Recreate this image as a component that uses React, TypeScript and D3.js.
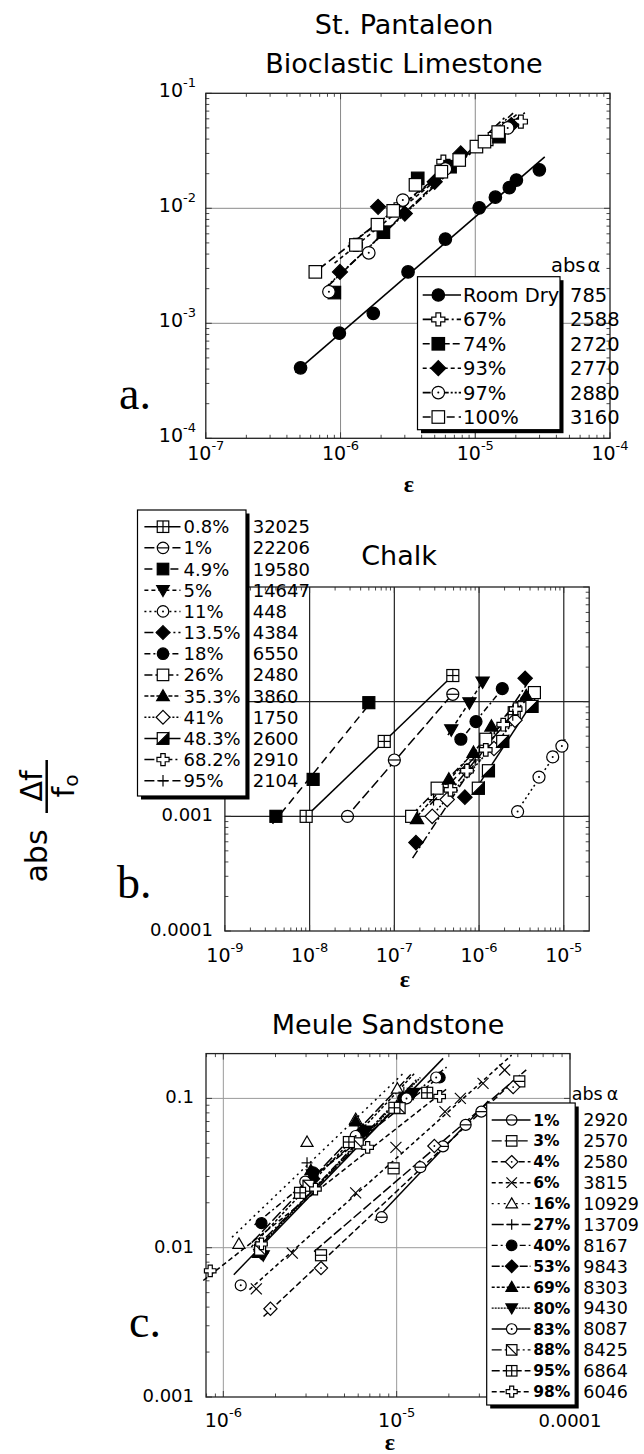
import React from 'react';
import * as d3 from 'd3';

const FONT = '"DejaVu Sans", sans-serif';
const SERIF = '"Liberation Serif", "DejaVu Serif", serif';

// ---------------- Panel a: St. Pantaleon Bioclastic Limestone ----------------
const aNames = ['Room Dry', '67%', '74%', '93%', '97%', '100%'];
const aAlpha = ['785', '2588', '2720', '2770', '2880', '3160'];
const aRoomDryX = [5.05e-7, 9.8e-7, 1.75e-6, 3.17e-6, 6.0e-6, 1.07e-5, 1.41e-5, 1.79e-5, 2.02e-5, 2.99e-5];
const aRoomDryY = [4.1e-4, 8.2e-4, 1.22e-3, 2.8e-3, 5.4e-3, 1.01e-2, 1.25e-2, 1.51e-2, 1.76e-2, 2.16e-2];
const a67X = [1.3e-6, 2.6e-6, 5.8e-6, 1.3e-5, 2.18e-5];
const a67Y = [4.8e-3, 9.8e-3, 2.54e-2, 4.0e-2, 5.67e-2];
const a74X = [9.0e-7, 2.08e-6, 3.74e-6, 6.5e-6, 1.5e-5];
const a74Y = [1.85e-3, 6.2e-3, 1.82e-2, 2.3e-2, 4.2e-2];
const a93X = [9.9e-7, 1.9e-6, 3.0e-6, 5.0e-6, 7.8e-6, 1.85e-5];
const a93Y = [2.8e-3, 1.03e-2, 9.0e-3, 1.7e-2, 3.0e-2, 5.3e-2];
const a97X = [8.2e-7, 1.62e-6, 2.9e-6, 6.0e-6, 1.74e-5];
const a97Y = [1.88e-3, 4.1e-3, 1.18e-2, 2.2e-2, 5.0e-2];
const a100X = [6.5e-7, 1.3e-6, 1.88e-6, 2.46e-6, 3.6e-6, 5.6e-6, 7.6e-6, 1.02e-5, 1.17e-5, 1.48e-5];
const a100Y = [2.8e-3, 4.8e-3, 7.2e-3, 9.5e-3, 1.6e-2, 2.08e-2, 2.63e-2, 3.44e-2, 3.8e-2, 4.6e-2];
const aXTicks = [1e-7, 1e-6, 1e-5, 1e-4];
const aYTicks = [1e-4, 1e-3, 1e-2, 1e-1];

// ---------------- Panel b: Chalk ----------------
const bNames = ['0.8%', '1%', '4.9%', '5%', '11%', '13.5%', '18%', '26%', '35.3%', '41%', '48.3%', '68.2%', '95%'];
const bAlpha = ['32025', '22206', '19580', '14647', '448', '4384', '6550', '2480', '3860', '1750', '2600', '2910', '2104'];
const b08X = [9.1e-9, 7.6e-8, 4.9e-7];
const b08Y = [1.0e-3, 4.5e-3, 1.69e-2];
const b1X = [2.8e-8, 1.0e-7, 4.9e-7];
const b1Y = [1.0e-3, 3.1e-3, 1.16e-2];
const b49X = [4.0e-9, 1.1e-8, 5.0e-8];
const b49Y = [1.0e-3, 2.1e-3, 9.8e-3];
const b5X = [4.7e-7, 7.7e-7, 1.1e-6];
const b5Y = [5.7e-3, 9.8e-3, 1.49e-2];
const b11X = [2.85e-6, 5.1e-6, 7.4e-6, 9.5e-6];
const b11Y = [1.1e-3, 2.2e-3, 3.3e-3, 4.1e-3];
const b135X = [1.8e-7, 6.8e-7, 3.5e-6];
const b135Y = [5.9e-4, 1.47e-3, 1.6e-2];
const b18X = [6.1e-7, 9.2e-7, 1.88e-6];
const b18Y = [4.7e-3, 6.7e-3, 1.3e-2];
const b26X = [1.6e-7, 3.2e-7, 1.2e-6, 2.6e-6, 4.5e-6];
const b26Y = [1.0e-3, 1.76e-3, 4.7e-3, 8.0e-3, 1.2e-2];
const b353X = [1.85e-7, 4.4e-7, 8.6e-7, 1.4e-6, 3.6e-6];
const b353Y = [9.5e-4, 2.1e-3, 3.6e-3, 6.1e-3, 1.12e-2];
const b41X = [2.8e-7, 4.2e-7, 7.2e-7, 1.5e-6, 2.65e-6];
const b41Y = [1.0e-3, 1.4e-3, 2.5e-3, 3.9e-3, 6.9e-3];
const b483X = [9.8e-7, 1.29e-6, 1.9e-6, 4.2e-6];
const b483Y = [1.76e-3, 2.5e-3, 4.5e-3, 9.1e-3];
const b682X = [4.6e-7, 7.2e-7, 1.2e-6, 1.93e-6, 2.7e-6];
const b682Y = [1.7e-3, 2.5e-3, 3.8e-3, 6.3e-3, 8.6e-3];
const b95X = [2.9e-7, 9.0e-7, 2.5e-6];
const b95Y = [1.4e-3, 3.1e-3, 7.7e-3];
const bXTicks = [1e-9, 1e-8, 1e-7, 1e-6, 1e-5];
const bYTicks = [1e-4, 1e-3];
const bYLabels = ['0.0001', '0.001'];

// ---------------- Panel c: Meule Sandstone ----------------
const cNames = ['1%', '3%', '4%', '6%', '16%', '27%', '40%', '53%', '69%', '80%', '83%', '88%', '95%', '98%'];
const cAlpha = ['2920', '2570', '2580', '3815', '10929', '13709', '8167', '9843', '8303', '9430', '8087', '8425', '6864', '6046'];
const c1X = [8.2e-6, 1.37e-5, 1.85e-5, 2.5e-5, 3.08e-5];
const c1Y = [1.6e-2, 3.46e-2, 4.77e-2, 6.65e-2, 8.15e-2];
const c3X = [3.66e-6, 9.6e-6, 5.1e-5];
const c3Y = [8.9e-3, 3.4e-2, 1.3e-1];
const c4X = [1.87e-6, 3.66e-6, 1.65e-5, 4.7e-5];
const c4Y = [3.9e-3, 7.3e-3, 4.8e-2, 1.19e-1];
const c6X = [1.55e-6, 2.5e-6, 5.8e-6, 9.9e-6, 1.9e-5, 2.33e-5, 3.15e-5, 4.2e-5];
const c6Y = [5.3e-3, 9.2e-3, 2.33e-2, 4.7e-2, 8.15e-2, 1.0e-1, 1.26e-1, 1.55e-1];
const c16X = [1.23e-6, 3.04e-6, 5.8e-6, 1.01e-5];
const c16Y = [1.06e-2, 5.1e-2, 7.26e-2, 1.16e-1];
const c27X = [1.6e-6, 3.04e-6, 6.0e-6, 1.1e-5];
const c27Y = [9.5e-3, 3.7e-2, 6.6e-2, 1.1e-1];
const c40X = [1.66e-6, 3.3e-6, 1.09e-5, 1.77e-5];
const c40Y = [1.46e-2, 3.2e-2, 1.0e-1, 1.38e-1];
const c53X = [1.66e-6, 3.3e-6, 6.4e-6, 1.19e-5];
const c53Y = [9.2e-3, 2.9e-2, 6.1e-2, 1.06e-1];
const c69X = [1.59e-6, 3.2e-6, 5.8e-6, 1.15e-5];
const c69Y = [9.2e-3, 3.3e-2, 7.0e-2, 1.05e-1];
const c80X = [1.7e-6, 3.26e-6, 6.7e-6, 1.25e-5];
const c80Y = [8.9e-3, 3.1e-2, 6.1e-2, 1.09e-1];
const c83X = [1.26e-6, 2.97e-6, 5.8e-6, 1.14e-5, 1.69e-5];
const c83Y = [5.6e-3, 2.77e-2, 5.6e-2, 1.0e-1, 1.38e-1];
const c88X = [1.63e-6, 3.1e-6, 5.96e-6, 1.04e-5];
const c88Y = [9.7e-3, 2.6e-2, 5.0e-2, 8.6e-2];
const c95X = [2.77e-6, 5.3e-6, 9.7e-6, 1.5e-5];
const c95Y = [2.33e-2, 5.1e-2, 8.65e-2, 1.09e-1];
const c98X = [8.4e-7, 1.66e-6, 3.4e-6, 6.8e-6, 1.77e-5];
const c98Y = [7.0e-3, 1.06e-2, 2.47e-2, 4.7e-2, 1.03e-1];
const cXTicks = [1e-6, 1e-5, 1e-4];
const cXLabels = ['', '', '0.0001'];
const cYTicks = [1e-3, 1e-2, 1e-1];
const cYLabels = ['0.001', '0.01', '0.1'];

type Series = { name: string; alpha: string; marker: string; dash: string; xs: number[]; ys: number[] };

const aSeries: Series[] = [
  { name: aNames[0], alpha: aAlpha[0], marker: 'circleFilled', dash: '', xs: aRoomDryX, ys: aRoomDryY },
  { name: aNames[1], alpha: aAlpha[1], marker: 'crossOpen', dash: '9,3,2,3', xs: a67X, ys: a67Y },
  { name: aNames[2], alpha: aAlpha[2], marker: 'squareFilled', dash: '7,3', xs: a74X, ys: a74Y },
  { name: aNames[3], alpha: aAlpha[3], marker: 'diamondFilled', dash: '4,3', xs: a93X, ys: a93Y },
  { name: aNames[4], alpha: aAlpha[4], marker: 'circleDot', dash: '8,2,2,2,2,2', xs: a97X, ys: a97Y },
  { name: aNames[5], alpha: aAlpha[5], marker: 'squareOpen', dash: '8,4', xs: a100X, ys: a100Y },
];

const bSeries: Series[] = [
  { name: bNames[0], alpha: bAlpha[0], marker: 'squareCross', dash: '', xs: b08X, ys: b08Y },
  { name: bNames[1], alpha: bAlpha[1], marker: 'circleBar', dash: '10,4', xs: b1X, ys: b1Y },
  { name: bNames[2], alpha: bAlpha[2], marker: 'squareFilled', dash: '8,5', xs: b49X, ys: b49Y },
  { name: bNames[3], alpha: bAlpha[3], marker: 'triDownFilled', dash: '4,3', xs: b5X, ys: b5Y },
  { name: bNames[4], alpha: bAlpha[4], marker: 'circleDot', dash: '2,3', xs: b11X, ys: b11Y },
  { name: bNames[5], alpha: bAlpha[5], marker: 'diamondFilled', dash: '9,3,2,3', xs: b135X, ys: b135Y },
  { name: bNames[6], alpha: bAlpha[6], marker: 'circleFilled', dash: '6,3,2,3', xs: b18X, ys: b18Y },
  { name: bNames[7], alpha: bAlpha[7], marker: 'squareOpen', dash: '8,3,2,3,2,3', xs: b26X, ys: b26Y },
  { name: bNames[8], alpha: bAlpha[8], marker: 'triUpFilled', dash: '4,2', xs: b353X, ys: b353Y },
  { name: bNames[9], alpha: bAlpha[9], marker: 'diamondOpen', dash: '2,2', xs: b41X, ys: b41Y },
  { name: bNames[10], alpha: bAlpha[10], marker: 'squareHalf', dash: '', xs: b483X, ys: b483Y },
  { name: bNames[11], alpha: bAlpha[11], marker: 'crossOpen', dash: '10,3,2,3', xs: b682X, ys: b682Y },
  { name: bNames[12], alpha: bAlpha[12], marker: 'plus', dash: '10,4', xs: b95X, ys: b95Y },
];

const cSeries: Series[] = [
  { name: cNames[0], alpha: cAlpha[0], marker: 'circleBar', dash: '', xs: c1X, ys: c1Y },
  { name: cNames[1], alpha: cAlpha[1], marker: 'squareBar', dash: '10,3', xs: c3X, ys: c3Y },
  { name: cNames[2], alpha: cAlpha[2], marker: 'diamondDot', dash: '6,3', xs: c4X, ys: c4Y },
  { name: cNames[3], alpha: cAlpha[3], marker: 'x', dash: '4,3', xs: c6X, ys: c6Y },
  { name: cNames[4], alpha: cAlpha[4], marker: 'triUpOpen', dash: '2,4', xs: c16X, ys: c16Y },
  { name: cNames[5], alpha: cAlpha[5], marker: 'plus', dash: '12,3', xs: c27X, ys: c27Y },
  { name: cNames[6], alpha: cAlpha[6], marker: 'circleFilled', dash: '6,3,2,3', xs: c40X, ys: c40Y },
  { name: cNames[7], alpha: cAlpha[7], marker: 'diamondFilled', dash: '8,2,2,2', xs: c53X, ys: c53Y },
  { name: cNames[8], alpha: cAlpha[8], marker: 'triUpFilled', dash: '3,2', xs: c69X, ys: c69Y },
  { name: cNames[9], alpha: cAlpha[9], marker: 'triDownFilled', dash: '2,1', xs: c80X, ys: c80Y },
  { name: cNames[10], alpha: cAlpha[10], marker: 'circleDot', dash: '', xs: c83X, ys: c83Y },
  { name: cNames[11], alpha: cAlpha[11], marker: 'squareDiag', dash: '10,3,2,3', xs: c88X, ys: c88Y },
  { name: cNames[12], alpha: cAlpha[12], marker: 'squareCross', dash: '8,3', xs: c95X, ys: c95Y },
  { name: cNames[13], alpha: cAlpha[13], marker: 'crossOpen', dash: '5,3', xs: c98X, ys: c98Y },
];

function fit(xs: number[], ys: number[]) {
  const lx = xs.map(Math.log10);
  const ly = ys.map(Math.log10);
  const mx = d3.mean(lx) as number;
  const my = d3.mean(ly) as number;
  let sxy = 0, sxx = 0;
  lx.forEach((v, i) => { sxy += (v - mx) * (ly[i] - my); sxx += (v - mx) * (v - mx); });
  const b = sxx > 0 ? sxy / sxx : 1;
  const a = my - b * mx;
  const [x0, x1] = d3.extent(lx) as [number, number];
  const e0 = x0 - 0.04, e1 = x1 + 0.04;
  return [[10 ** e0, 10 ** (a + b * e0)], [10 ** e1, 10 ** (a + b * e1)]] as [number, number][];
}

function Marker({ t, x, y, s }: { t: string; x: number; y: number; s: number }) {
  const r = s / 2;
  const st = { stroke: '#000', strokeWidth: 1.2 };
  const W = '#fff', B = '#000';
  const d = r * 1.2;
  switch (t) {
    case 'circleFilled': return <circle cx={x} cy={y} r={r} fill={B} {...st} />;
    case 'circleOpen': return <circle cx={x} cy={y} r={r} fill={W} {...st} />;
    case 'circleDot': return <g><circle cx={x} cy={y} r={r} fill={W} {...st} /><circle cx={x} cy={y} r={1} fill={B} /></g>;
    case 'circleBar': return <g><circle cx={x} cy={y} r={r} fill={W} {...st} /><line x1={x - r} x2={x + r} y1={y} y2={y} {...st} /></g>;
    case 'squareOpen': return <rect x={x - r} y={y - r} width={s} height={s} fill={W} {...st} />;
    case 'squareFilled': return <rect x={x - r} y={y - r} width={s} height={s} fill={B} {...st} />;
    case 'squareCross': return <g><rect x={x - r} y={y - r} width={s} height={s} fill={W} {...st} /><line x1={x - r} x2={x + r} y1={y} y2={y} {...st} /><line x1={x} x2={x} y1={y - r} y2={y + r} {...st} /></g>;
    case 'squareBar': return <g><rect x={x - r} y={y - r} width={s} height={s} fill={W} {...st} /><line x1={x - r} x2={x + r} y1={y} y2={y} {...st} /></g>;
    case 'squareHalf': return <g><rect x={x - r} y={y - r} width={s} height={s} fill={W} {...st} /><polygon points={`${x + r},${y - r} ${x + r},${y + r} ${x - r},${y + r}`} fill={B} {...st} /></g>;
    case 'squareDiag': return <g><rect x={x - r} y={y - r} width={s} height={s} fill={W} {...st} /><line x1={x - r} x2={x + r} y1={y - r} y2={y + r} {...st} /></g>;
    case 'diamondFilled': return <polygon points={`${x},${y - d} ${x + d},${y} ${x},${y + d} ${x - d},${y}`} fill={B} {...st} />;
    case 'diamondOpen': return <polygon points={`${x},${y - d} ${x + d},${y} ${x},${y + d} ${x - d},${y}`} fill={W} {...st} />;
    case 'diamondDot': return <g><polygon points={`${x},${y - d} ${x + d},${y} ${x},${y + d} ${x - d},${y}`} fill={W} {...st} /><circle cx={x} cy={y} r={0.9} fill={B} /></g>;
    case 'triUpFilled': return <polygon points={`${x},${y - r * 1.1} ${x + r * 1.1},${y + r * 0.8} ${x - r * 1.1},${y + r * 0.8}`} fill={B} {...st} />;
    case 'triUpOpen': return <polygon points={`${x},${y - r * 1.1} ${x + r * 1.1},${y + r * 0.8} ${x - r * 1.1},${y + r * 0.8}`} fill={W} {...st} />;
    case 'triDownFilled': return <polygon points={`${x},${y + r * 1.1} ${x + r * 1.1},${y - r * 0.8} ${x - r * 1.1},${y - r * 0.8}`} fill={B} {...st} />;
    case 'crossOpen': {
      const w = s * 0.19, R = r * 1.05;
      const p = [[-w, -R], [w, -R], [w, -w], [R, -w], [R, w], [w, w], [w, R], [-w, R], [-w, w], [-R, w], [-R, -w], [-w, -w]]
        .map(([a, b]) => `${x + a},${y + b}`).join(' ');
      return <polygon points={p} fill={W} {...st} />;
    }
    case 'plus': return <g><line x1={x - r} x2={x + r} y1={y} y2={y} {...st} /><line x1={x} x2={x} y1={y - r} y2={y + r} {...st} /></g>;
    case 'x': return <g><line x1={x - r} x2={x + r} y1={y - r} y2={y + r} {...st} /><line x1={x - r} x2={x + r} y1={y + r} y2={y - r} {...st} /></g>;
    default: return null;
  }
}

function minorTicks(dom: [number, number]) {
  const out: { v: number; major: boolean }[] = [];
  const lo = Math.floor(Math.log10(dom[0])), hi = Math.ceil(Math.log10(dom[1]));
  for (let e = lo; e <= hi; e++) {
    for (let m = 1; m <= 9; m++) {
      const v = m * 10 ** e;
      if (v >= dom[0] * 0.999 && v <= dom[1] * 1.001) out.push({ v, major: m === 1 });
    }
  }
  return out;
}

function Frame({ x, y, gridX, gridY, gridColor, gridW }: any) {
  const [x0, x1] = x.range();
  const [y0, y1] = y.range();
  const xt = minorTicks(x.domain());
  const yt = minorTicks(y.domain());
  return (
    <g>
      {gridX.map((v: number, i: number) => <line key={'gx' + i} x1={x(v)} x2={x(v)} y1={y0} y2={y1} stroke={gridColor} strokeWidth={gridW} />)}
      {gridY.map((v: number, i: number) => <line key={'gy' + i} x1={x0} x2={x1} y1={y(v)} y2={y(v)} stroke={gridColor} strokeWidth={gridW} />)}
      {xt.map((t, i) => {
        const L = t.major ? 6 : 3.5;
        return <g key={'xt' + i}>
          <line x1={x(t.v)} x2={x(t.v)} y1={y0} y2={y0 - L} stroke="#333" strokeWidth={0.9} />
          <line x1={x(t.v)} x2={x(t.v)} y1={y1} y2={y1 + L} stroke="#333" strokeWidth={0.9} />
        </g>;
      })}
      {yt.map((t, i) => {
        const L = t.major ? 6 : 3.5;
        return <g key={'yt' + i}>
          <line x1={x0} x2={x0 + L} y1={y(t.v)} y2={y(t.v)} stroke="#333" strokeWidth={0.9} />
          <line x1={x1} x2={x1 - L} y1={y(t.v)} y2={y(t.v)} stroke="#333" strokeWidth={0.9} />
        </g>;
      })}
      <rect x={x0} y={y1} width={x1 - x0} height={y0 - y1} fill="none" stroke="#222" strokeWidth={1.3} />
    </g>
  );
}

function Data({ series, x, y, ms, lw }: { series: Series[]; x: any; y: any; ms: number; lw: number }) {
  return (
    <g>
      {series.map((s, i) => {
        const f = fit(s.xs, s.ys);
        return <line key={'l' + i} x1={x(f[0][0])} y1={y(f[0][1])} x2={x(f[1][0])} y2={y(f[1][1])} stroke="#000" strokeWidth={lw} strokeDasharray={s.dash || undefined} />;
      })}
      {series.map((s, i) => (
        <g key={'m' + i}>
          {s.xs.map((v, j) => <Marker key={j} t={s.marker} x={x(v)} y={y(s.ys[j])} s={ms} />)}
        </g>
      ))}
    </g>
  );
}

function Legend({ series, box, rows, lineX, markX, textX, valX, fs, vfs, ms, bold, lw }: any) {
  return (
    <g>
      <rect x={box.x + 3.5} y={box.y + 3.5} width={box.w} height={box.h} fill="#000" />
      <rect x={box.x} y={box.y} width={box.w} height={box.h} fill="#fff" stroke="#000" strokeWidth={1.2} />
      {series.map((s: Series, i: number) => {
        const cy = rows.y0 + rows.dy * i;
        return (
          <g key={i}>
            <line x1={lineX[0]} x2={lineX[1]} y1={cy} y2={cy} stroke="#000" strokeWidth={lw} strokeDasharray={s.dash || undefined} />
            <Marker t={s.marker} x={markX} y={cy} s={ms} />
            <text x={textX} y={cy + fs * 0.36} fontSize={fs} fontFamily={FONT} fontWeight={bold ? 'bold' : 'normal'}>{s.name}</text>
            <text x={valX} y={cy + vfs * 0.36} fontSize={vfs} fontFamily={FONT}>{s.alpha}</text>
          </g>
        );
      })}
    </g>
  );
}

function expLabel(v: number) {
  return String(Math.round(Math.log10(v)));
}

export default function App() {
  const ax = d3.scaleLog().domain([1e-7, 1e-4]).range([205.8, 610]);
  const ay = d3.scaleLog().domain([1e-4, 1e-1]).range([438.3, 93.3]);
  const bx = d3.scaleLog().domain([1e-9, 10 ** -4.7]).range([224.9, 589.2]);
  const by = d3.scaleLog().domain([1e-4, 1e-1]).range([931, 587]);
  const cx = d3.scaleLog().domain([10 ** -6.1, 1e-4]).range([206, 570]);
  const cy = d3.scaleLog().domain([1e-3, 10 ** -0.7]).range([1397, 1053.6]);

  return (
    <svg width={644} height={1454} style={{ position: 'absolute', left: 0, top: 0, background: '#fff' }}>
      <rect x={0} y={0} width={644} height={1454} fill="#fff" />

      {/* ---------- Panel a ---------- */}
      <text x={404} y={34} textAnchor="middle" fontSize={27} fontFamily={FONT}>St. Pantaleon</text>
      <text x={404} y={73} textAnchor="middle" fontSize={27} fontFamily={FONT}>Bioclastic Limestone</text>
      <Frame x={ax} y={ay} gridX={[1e-6, 1e-5]} gridY={[1e-3, 1e-2]} gridColor="#8a8a8a" gridW={1} />
      <Data series={aSeries} x={ax} y={ay} ms={12.5} lw={1.6} />
      {aYTicks.map((v, i) => (
        <text key={'ay' + i} x={196} y={ay(v) + 4} textAnchor="end" fontSize={19} fontFamily={FONT}>
          10<tspan dy={-10} fontSize={13}>{expLabel(v)}</tspan>
        </text>
      ))}
      {aXTicks.map((v, i) => (
        <text key={'ax' + i} x={ax(v)} y={460} textAnchor="middle" fontSize={19} fontFamily={FONT}>
          10<tspan dy={-10} fontSize={13}>{expLabel(v)}</tspan>
        </text>
      ))}
      <text x={409} y={492} textAnchor="middle" fontSize={24} fontWeight="bold" fontFamily={SERIF}>ε</text>
      <text x={119} y={409} fontSize={46} fontFamily={SERIF}>a.</text>
      <Legend series={aSeries} box={{ x: 417.5, y: 276.7, w: 142.5, h: 153 }} rows={{ y0: 295, dy: 24.4 }}
        lineX={[422.7, 461]} markX={438.3} textX={463} valX={570} fs={19.5} vfs={19.5} ms={12.5} lw={1.6} />
      <text x={551} y={272} fontSize={19.5} fontFamily={FONT}>abs<tspan dx={2}>α</tspan></text>

      {/* ---------- y axis label ---------- */}
      <text transform="translate(47,856) rotate(-90)" textAnchor="middle" fontSize={30} fontFamily={FONT}>abs</text>
      <text transform="translate(42,786) rotate(-90)" textAnchor="middle" fontSize={30} fontFamily={FONT}>Δf</text>
      <line x1={46.7} x2={46.7} y1={760} y2={813} stroke="#000" strokeWidth={2.5} />
      <text transform="translate(74,786) rotate(-90)" textAnchor="middle" fontSize={30} fontFamily={FONT}>f<tspan fontSize={20} dy={4}>o</tspan></text>

      {/* ---------- Panel b ---------- */}
      <text x={399} y={565} textAnchor="middle" fontSize={27} fontFamily={FONT}>Chalk</text>
      <Frame x={bx} y={by} gridX={[1e-8, 1e-7, 1e-6, 1e-5]} gridY={[1e-3, 1e-2]} gridColor="#222" gridW={1.2} />
      <Data series={bSeries} x={bx} y={by} ms={12} lw={1.5} />
      {bYTicks.map((v, i) => (
        <text key={'by' + i} x={213} y={by(v) + 5} textAnchor="end" fontSize={18} fontFamily={FONT}>{bYLabels[i]}</text>
      ))}
      {bXTicks.map((v, i) => (
        <text key={'bx' + i} x={bx(v)} y={962} textAnchor="middle" fontSize={19} fontFamily={FONT}>
          10<tspan dy={-10} fontSize={13}>{expLabel(v)}</tspan>
        </text>
      ))}
      <text x={405} y={987} textAnchor="middle" fontSize={24} fontWeight="bold" fontFamily={SERIF}>ε</text>
      <text x={117} y={898} fontSize={46} fontFamily={SERIF}>b.</text>
      <Legend series={bSeries} box={{ x: 137.5, y: 510, w: 108.5, h: 286 }} rows={{ y0: 526.7, dy: 21.17 }}
        lineX={[144.4, 180.5]} markX={163} textX={183.5} valX={252.7} fs={18} vfs={18} ms={11.5} lw={1.5} />

      {/* ---------- Panel c ---------- */}
      <text x={388} y={1034} textAnchor="middle" fontSize={27} fontFamily={FONT}>Meule Sandstone</text>
      <Frame x={cx} y={cy} gridX={[1e-6, 1e-5]} gridY={[1e-2, 1e-1]} gridColor="#9a9a9a" gridW={1} />
      <Data series={cSeries} x={cx} y={cy} ms={11} lw={1.5} />
      {cYTicks.map((v, i) => (
        <text key={'cy' + i} x={194} y={cy(v) + 5} textAnchor="end" fontSize={18} fontFamily={FONT}>{cYLabels[i]}</text>
      ))}
      {cXTicks.map((v, i) => (
        cXLabels[i]
          ? <text key={'cx' + i} x={cx(v)} y={1427} textAnchor="middle" fontSize={18} fontFamily={FONT}>{cXLabels[i]}</text>
          : <text key={'cx' + i} x={cx(v)} y={1427} textAnchor="middle" fontSize={19} fontFamily={FONT}>
            10<tspan dy={-10} fontSize={13}>{expLabel(v)}</tspan>
          </text>
      ))}
      <text x={390} y={1450} textAnchor="middle" fontSize={24} fontWeight="bold" fontFamily={SERIF}>ε</text>
      <text x={129} y={1337} fontSize={46} fontFamily={SERIF}>c.</text>
      <Legend series={cSeries} box={{ x: 486.7, y: 1103, w: 88.5, h: 302 }} rows={{ y0: 1120, dy: 20.9 }}
        lineX={[491.7, 530.5]} markX={511.7} textX={533.3} valX={583.3} fs={15.5} vfs={17.5} ms={10.5} bold lw={1.4} />
      <text x={571.7} y={1100} fontSize={17.5} fontFamily={FONT}>abs<tspan dx={4}>α</tspan></text>
    </svg>
  );
}
